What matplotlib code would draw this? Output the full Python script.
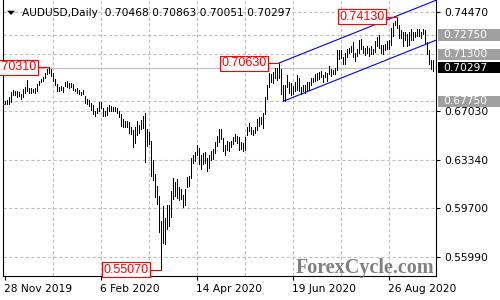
import numpy as np
import pandas as pd
import matplotlib
matplotlib.use("Agg")
import matplotlib.pyplot as plt
from matplotlib.patches import Rectangle, Polygon

# ── data ──────────────────────────────────────────────────────────────────────

SYMBOL = "AUDUSD,Daily"
LAST_OHLC = [0.70468, 0.70863, 0.70051, 0.70297]

highs = [
    0.6780, 0.6782,
    0.6805, 0.6846, 0.6862, 0.6851, 0.6853,
    0.6845, 0.6832, 0.6870, 0.6882, 0.6939,
    0.6878, 0.6876, 0.6868, 0.6874, 0.6906,
    0.6930, 0.6942, 0.6962, 0.6986, 0.7020, 0.7031,
    0.7016, 0.6988, 0.6944, 0.6908, 0.6880, 0.6888, 0.6880,
    0.6920, 0.6926, 0.6910, 0.6912, 0.6905,
    0.6870, 0.6878, 0.6860, 0.6848, 0.6862,
    0.6812, 0.6790, 0.6782, 0.6765, 0.6745,
    0.6705, 0.6728, 0.6768, 0.6774, 0.6728,
    0.6700, 0.6734, 0.6748, 0.6742, 0.6735,
    0.6732, 0.6722, 0.6706, 0.6678, 0.6642,
    0.6625, 0.6628, 0.6620, 0.6583, 0.6560,
    0.6582, 0.6625, 0.6598, 0.6635, 0.6662,
    0.6686, 0.6565, 0.6545, 0.6480, 0.6330,
    0.6230, 0.6140, 0.6060, 0.5870, 0.5985,
    0.5895, 0.5990, 0.5990, 0.6100, 0.6200,
    0.6170, 0.6190, 0.6130, 0.6115, 0.6070,
    0.6115, 0.6205, 0.6210, 0.6350, 0.6370,
    0.6395, 0.6445, 0.6420, 0.6370, 0.6385,
    0.6390, 0.6350, 0.6370, 0.6400, 0.6415,
    0.6472, 0.6515, 0.6570, 0.6570,
    0.6500, 0.6445, 0.6480, 0.6465, 0.6480, 0.6510,
    0.6530, 0.6515, 0.6505, 0.6470, 0.6460,
    0.6505, 0.6580, 0.6615, 0.6585, 0.6560,
    0.6580, 0.6640, 0.6655, 0.6660, 0.6685,
    0.6808, 0.6895, 0.6990, 0.6985, 0.7000,
    0.7030, 0.7030, 0.7063, 0.7020, 0.6900,
    0.6900, 0.6975, 0.6920, 0.6912, 0.6890,
    0.6922, 0.6972, 0.6950, 0.6880, 0.6902,
    0.6898, 0.6920, 0.6922, 0.6955, 0.6950,
    0.6985, 0.6990, 0.6998, 0.7002, 0.6975,
    0.7000, 0.6990, 0.7040, 0.7020, 0.7015,
    0.7030, 0.7160, 0.7162, 0.7160, 0.7110,
    0.7140, 0.7170, 0.7180, 0.7190, 0.7225,
    0.7140, 0.7170, 0.7240, 0.7242, 0.7190,
    0.7180, 0.7190, 0.7180, 0.7190, 0.7170,
    0.7230, 0.7260, 0.7275, 0.7200, 0.7200,
    0.7210, 0.7230, 0.7240, 0.7330, 0.7370,
    0.7380, 0.7413, 0.7350, 0.7310, 0.7300,
    0.7300, 0.7280, 0.7300, 0.7320, 0.7300,
    0.7300, 0.7320, 0.7320, 0.7300, 0.7320,
    0.7310, 0.7220, 0.7160, 0.7090, 0.70863,
]

lows = [
    0.6758, 0.6755,
    0.6754, 0.6770, 0.6822, 0.6825, 0.6806,
    0.6815, 0.6796, 0.6808, 0.6840, 0.6852,
    0.6840, 0.6838, 0.6843, 0.6842, 0.6857,
    0.6895, 0.6918, 0.6932, 0.6948, 0.6980, 0.6990,
    0.6968, 0.6930, 0.6902, 0.6851, 0.6850, 0.6858, 0.6845,
    0.6888, 0.6880, 0.6873, 0.6880, 0.6858,
    0.6850, 0.6838, 0.6830, 0.6826, 0.6830,
    0.6760, 0.6755, 0.6738, 0.6710, 0.6683,
    0.6662, 0.6684, 0.6700, 0.6722, 0.6662,
    0.6662, 0.6672, 0.6702, 0.6700, 0.6706,
    0.6706, 0.6686, 0.6658, 0.6592, 0.6585,
    0.6585, 0.6584, 0.6535, 0.6530, 0.6434,
    0.6458, 0.6520, 0.6540, 0.6565, 0.6575,
    0.6320, 0.6440, 0.6455, 0.6215, 0.6185,
    0.6055, 0.6000, 0.5790, 0.5507, 0.5710,
    0.5700, 0.5810, 0.5835, 0.5900, 0.6040,
    0.6060, 0.6050, 0.6030, 0.6040, 0.5980,
    0.5990, 0.6130, 0.6135, 0.6200, 0.6310,
    0.6325, 0.6370, 0.6300, 0.6265, 0.6300,
    0.6310, 0.6253, 0.6270, 0.6335, 0.6340,
    0.6388, 0.6440, 0.6470, 0.6490,
    0.6400, 0.6372, 0.6410, 0.6400, 0.6430, 0.6455,
    0.6480, 0.6460, 0.6405, 0.6415, 0.6400,
    0.6412, 0.6520, 0.6550, 0.6530, 0.6525,
    0.6535, 0.6560, 0.6590, 0.6605, 0.6575,
    0.6680, 0.6795, 0.6885, 0.6920, 0.6910,
    0.6950, 0.6935, 0.6955, 0.6830, 0.6780,
    0.6777, 0.6880, 0.6840, 0.6822, 0.6830,
    0.6850, 0.6860, 0.6855, 0.6832, 0.6850,
    0.6835, 0.6858, 0.6862, 0.6900, 0.6920,
    0.6930, 0.6935, 0.6945, 0.6960, 0.6922,
    0.6960, 0.6930, 0.6985, 0.6970, 0.6980,
    0.6980, 0.7010, 0.7095, 0.7100, 0.7060,
    0.7060, 0.7110, 0.7140, 0.7150, 0.7110,
    0.7080, 0.7120, 0.7140, 0.7170, 0.7140,
    0.7125, 0.7140, 0.7120, 0.7130, 0.7130,
    0.7150, 0.7190, 0.7180, 0.7140, 0.7130,
    0.7160, 0.7170, 0.7170, 0.7200, 0.7270,
    0.7350, 0.7330, 0.7250, 0.7250, 0.7190,
    0.7240, 0.7190, 0.7200, 0.7240, 0.7240,
    0.7260, 0.7270, 0.7270, 0.7250, 0.7280,
    0.7210, 0.7130, 0.7060, 0.7020, 0.70051,
]

HOLIDAYS = ["2019-12-25", "2020-01-01"]
dates = pd.bdate_range("2019-11-28", "2020-09-25")
dates = dates[~dates.isin(pd.to_datetime(HOLIDAYS))]

XTICK_DATES = ["2019-11-28", "2020-02-06", "2020-04-14", "2020-06-19", "2020-08-26"]
YTICKS = [0.74470, 0.67030, 0.63340, 0.59700, 0.55990]
LEVELS = [0.72750, 0.71300, 0.67750]
GRID_STEP = 24

# swing labels: (bar date, "high"/"low")
SWINGS = [("2019-12-31", "high"), ("2020-03-19", "low"),
          ("2020-06-10", "high"), ("2020-09-01", "high")]

# channel anchors (bar date, high/low) and slope per bar
CH_UPPER = ("2020-06-10", "high")
CH_LOWER = ("2020-06-15", "low")
CH_SLOPE = 0.000603

Y_MIN, Y_MAX = 0.54580, 0.75398

GRID_COLOR = "#c0c0c0"
FONT = "DejaVu Sans"

# ── figure ────────────────────────────────────────────────────────────────────

W, H = 500, 300
fig = plt.figure(figsize=(W / 100, H / 100), dpi=100)
ax = fig.add_axes([3 / W, 24 / H, 432.7 / W, 276 / H])

x = np.arange(len(highs))
idx = {d.strftime("%Y-%m-%d"): i for i, d in enumerate(dates)}

ax.set_xlim(-0.75, 215.6)
ax.set_ylim(Y_MIN, Y_MAX)

# grid
for g in range(GRID_STEP, len(highs), GRID_STEP):
    ax.axvline(g, color=GRID_COLOR, lw=0.8, ls=(0, (3, 2)), zorder=0)
for v in YTICKS + LEVELS:
    ax.axhline(v, color=GRID_COLOR, lw=0.8, ls=(0, (3, 2)), zorder=0)
ax.axhline(LAST_OHLC[3], color=GRID_COLOR, lw=0.8, zorder=0)

# bars
ax.vlines(x, lows, highs, color="black", lw=0.72, antialiased=False, zorder=3)

# channel
ih = idx[CH_UPPER[0]]
il = idx[CH_LOWER[0]]
xr = 216
ax.plot([ih, xr], [highs[ih], highs[ih] + CH_SLOPE * (xr - ih)], color="#0000ff", lw=0.8, zorder=4)
ax.plot([il - 0.5, xr], [lows[il], lows[il] + CH_SLOPE * (xr - il + 0.5)], color="#0000ff", lw=0.8, zorder=4)

# swing labels
for d, kind in SWINGS:
    i = idx[d]
    p = highs[i] if kind == "high" else lows[i]
    ax.plot([i - 5, i], [p, p], color="red", lw=0.8, zorder=4)
    ax.text(i - 5.8, p, f"{p:.5f}", color="red", fontsize=9, family="Liberation Sans",
            ha="right", va="center", zorder=5,
            bbox=dict(boxstyle="square,pad=0.12", fc="white", ec="red", lw=0.8))
# small red tick at left edge
ax.plot([-0.75, 0.3], [lows[0], lows[0]], color="red", lw=0.8, zorder=4)

# axes styling
for s in ["left", "right", "bottom"]:
    ax.spines[s].set_color("black")
    ax.spines[s].set_linewidth(0.8)
ax.spines["top"].set_visible(False)

xt = [idx[d] for d in XTICK_DATES]
ax.set_xticks(xt)
ax.set_xticklabels([f"{dates[i].day} {dates[i].strftime('%b %Y')}" for i in xt],
                   ha="left", fontsize=7.7, family=FONT)
ax.tick_params(axis="x", length=3, width=0.8, pad=3)

ax.yaxis.tick_right()
ax.set_yticks(YTICKS)
ax.set_yticklabels([f"{v:.5f}" for v in YTICKS], fontsize=7.7, family=FONT)
ax.tick_params(axis="y", length=3, width=0.8, pad=3.5)

# right-side price boxes
trans = ax.get_yaxis_transform()
box_h = 11.5 / 1325.8
x0 = 1.0 + 2.0 / 432.7
xt0 = 1.0 + 7.6 / 432.7
for v, fc in [(LEVELS[0], "#a0a0a0"), (LEVELS[1], "#a0a0a0"), (LEVELS[2], "#a0a0a0"),
              (LAST_OHLC[3], "black")]:
    ax.add_patch(Rectangle((x0, v - box_h / 2), 0.2, box_h, transform=trans,
                           fc=fc, ec="none", clip_on=False, zorder=6))
    ax.text(xt0, v, f"{v:.5f}", transform=trans, color="white", fontsize=7.7,
            family=FONT, ha="left", va="center", clip_on=False, zorder=7)

# header
fig.patches.append(Polygon([[7 / W, 1 - 10.7 / H], [15 / W, 1 - 10.7 / H], [11 / W, 1 - 15 / H]],
                           closed=True, transform=fig.transFigure, fc="black", ec="none"))
fig.text(21.7 / W, 1 - 13.3 / H,
         SYMBOL + "  " + " ".join(f"{v:.5f}" for v in LAST_OHLC),
         fontsize=7.7, family=FONT, ha="left", va="center")

# watermark
fig.text(434 / W, 1 - 273 / H, "ForexCycle.com", color="#808080", fontsize=14.5,
         family="Liberation Serif", fontweight="bold", ha="right", va="baseline")

fig.savefig("out.png", dpi=100)
